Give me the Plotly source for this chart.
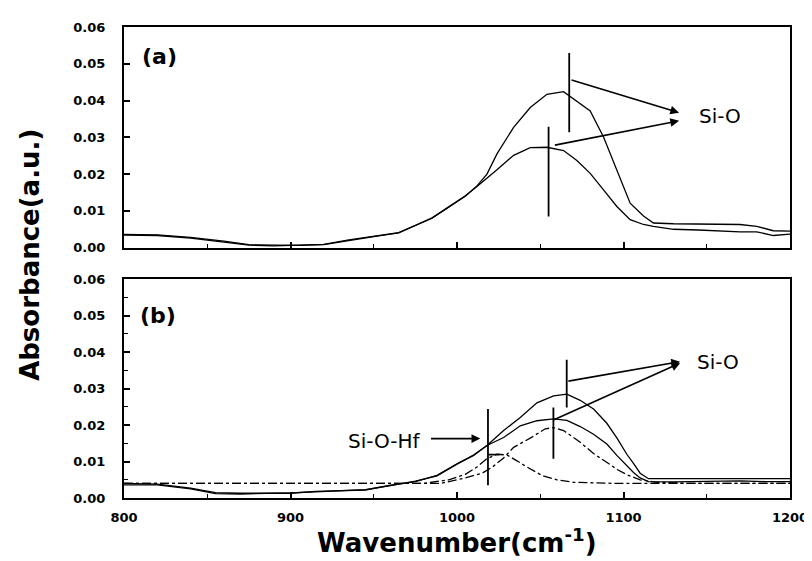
import plotly.graph_objects as go

# ---------------- data: panel (a) ----------------
a_x = [800, 820, 840, 860, 875, 890, 905, 920, 935, 950, 965, 975, 985, 995, 1005, 1012, 1018,
       1024, 1034, 1044, 1054, 1064, 1072, 1080, 1088, 1096, 1104, 1112, 1118,
       1130, 1145, 1160, 1170, 1180, 1190, 1200]
a_upper = [0.0036, 0.0035, 0.0028, 0.0018, 0.0008, 0.0006, 0.0006, 0.0008, 0.0020, 0.0030,
           0.0040, 0.0060, 0.0080, 0.0110, 0.0140, 0.0168, 0.0200,
           0.0255, 0.0327, 0.0381, 0.0417, 0.0424, 0.0399, 0.0372, 0.0301, 0.0210, 0.0121,
           0.0086, 0.0067, 0.0065, 0.0065, 0.0065, 0.0063, 0.0058, 0.0046, 0.0045]
a_lower = [0.0034, 0.0033, 0.0026, 0.0016, 0.0007, 0.0005, 0.0006, 0.0009, 0.0021, 0.0031,
           0.0041, 0.0061, 0.0081, 0.0111, 0.0141, 0.0166, 0.0190,
           0.0212, 0.0251, 0.0272, 0.0273, 0.0264, 0.0237, 0.0202, 0.0157, 0.0112, 0.0076,
           0.0063, 0.0058, 0.0050, 0.0048, 0.0044, 0.0043, 0.0043, 0.0033, 0.0037]

# ---------------- data: panel (b) ----------------
b_x = [800, 820, 840, 855, 870, 885, 900, 915, 930, 945, 960, 975, 988, 1000, 1010, 1018,
       1028, 1038, 1048, 1058, 1066, 1074, 1082, 1090, 1096, 1102, 1106, 1110, 1115,
       1130, 1150, 1170, 1185, 1200]
b_upper = [0.0040, 0.0038, 0.0027, 0.0015, 0.0013, 0.0013, 0.0013, 0.0018, 0.0020, 0.0022,
           0.0035, 0.0045, 0.0062, 0.0094, 0.0118, 0.0144,
           0.0185, 0.0221, 0.0261, 0.0280, 0.0285, 0.0268, 0.0244, 0.0205, 0.0165, 0.0120,
           0.0095, 0.0068, 0.0053, 0.0053, 0.0053, 0.0052, 0.0053, 0.0053]
b_middle = [0.0036, 0.0036, 0.0025, 0.0012, 0.0011, 0.0012, 0.0014, 0.0017, 0.0019, 0.0023,
            0.0034, 0.0046, 0.0061, 0.0093, 0.0117, 0.0144,
            0.0166, 0.0198, 0.0212, 0.0217, 0.0213, 0.0196, 0.0175, 0.0148, 0.0117, 0.0088,
            0.0070, 0.0055, 0.0045, 0.0044, 0.0046, 0.0047, 0.0045, 0.0045]

c1_x = [800, 990, 1005, 1015, 1021, 1028, 1034, 1045, 1053, 1058, 1064, 1074, 1082, 1090,
        1097, 1103, 1110, 1120, 1140, 1200]
c1_y = [0.0040, 0.0040, 0.0055, 0.0068, 0.0084, 0.0110, 0.0139, 0.0167, 0.0190, 0.0193,
        0.0185, 0.0153, 0.0122, 0.0098, 0.0076, 0.0062, 0.0050, 0.0043, 0.0040, 0.0040]
c2_x = [800, 980, 995, 1005, 1012, 1018, 1024, 1030, 1036, 1042, 1051, 1060, 1070, 1096, 1200]
c2_y = [0.0040, 0.0040, 0.0050, 0.0065, 0.0085, 0.0108, 0.0120, 0.0118, 0.0102, 0.0085,
        0.0062, 0.0050, 0.0043, 0.0040, 0.0040]

# ---------------- annotation positions (data units) ----------------
a_vlines = [(1067.4, 0.0314, 0.0529), (1055.0, 0.0085, 0.0329)]
a_arrows = [((1067.9, 0.0457), (1133.4, 0.0367)), ((1057.9, 0.0278), (1133.4, 0.0345))]
a_label_pos = (1144.0, 0.0358)

b_vlines = [(1018.6, 0.0035, 0.0244), (1065.9, 0.0248, 0.0379), (1057.9, 0.0108, 0.0248)]
b_hticks = [((1019.0, 1025.5), 0.0119)]
b_arrows = [((1066.0, 0.0320), (1134.0, 0.0374)), ((1057.0, 0.0212), (1134.0, 0.0370))]
b_label_pos = (1143.0, 0.0372)
hf_arrow = ((983.5, 0.0163), (1014.0, 0.0163))
hf_label_pos = (983.0, 0.0157)

x_ticks = [800, 900, 1000, 1100, 1200]
x_ticklabels = ["800", "900", "1000", "1100", "1200"]
y_ticks = [0.00, 0.01, 0.02, 0.03, 0.04, 0.05, 0.06]
y_ticklabels = ["0.00", "0.01", "0.02", "0.03", "0.04", "0.05", "0.06"]

BLACK = "#000000"
fig = go.Figure()

line_style = dict(color=BLACK, width=1.3)
fig.add_trace(go.Scatter(x=a_x, y=a_upper, mode="lines", line=line_style, xaxis="x", yaxis="y"))
fig.add_trace(go.Scatter(x=a_x, y=a_lower, mode="lines", line=line_style, xaxis="x", yaxis="y"))
fig.add_trace(go.Scatter(x=b_x, y=b_upper, mode="lines", line=line_style, xaxis="x2", yaxis="y2"))
fig.add_trace(go.Scatter(x=b_x, y=b_middle, mode="lines", line=line_style, xaxis="x2", yaxis="y2"))
fig.add_trace(go.Scatter(x=c1_x, y=c1_y, mode="lines", line=dict(color=BLACK, width=1.3, dash="dashdot"),
                         xaxis="x2", yaxis="y2"))
fig.add_trace(go.Scatter(x=c2_x, y=c2_y, mode="lines", line=dict(color=BLACK, width=1.3, dash="dashdot"),
                         xaxis="x2", yaxis="y2"))

shapes = []
for xv, y0, y1 in a_vlines:
    shapes.append(dict(type="line", xref="x", yref="y", x0=xv, x1=xv, y0=y0, y1=y1,
                       line=dict(color=BLACK, width=1.8)))
for xv, y0, y1 in b_vlines:
    shapes.append(dict(type="line", xref="x2", yref="y2", x0=xv, x1=xv, y0=y0, y1=y1,
                       line=dict(color=BLACK, width=1.8)))
for (x0, x1), yv in b_hticks:
    shapes.append(dict(type="line", xref="x2", yref="y2", x0=x0, x1=x1, y0=yv, y1=yv,
                       line=dict(color=BLACK, width=1.8)))

annotations = []
def arrow(tail, head, xr, yr):
    return dict(x=head[0], y=head[1], ax=tail[0], ay=tail[1], xref=xr, yref=yr,
                axref=xr, ayref=yr, text="", showarrow=True, arrowhead=2,
                arrowsize=1.1, arrowwidth=1.6, arrowcolor=BLACK, standoff=0, startstandoff=0)

for t, h in a_arrows:
    annotations.append(arrow(t, h, "x", "y"))
for t, h in b_arrows:
    annotations.append(arrow(t, h, "x2", "y2"))
annotations.append(arrow(hf_arrow[0], hf_arrow[1], "x2", "y2"))

txt_font = dict(family="DejaVu Sans", size=20, color=BLACK)
annotations.append(dict(x=a_label_pos[0], y=a_label_pos[1], xref="x", yref="y", text="Si-O",
                        showarrow=False, xanchor="left", yanchor="middle", font=txt_font))
annotations.append(dict(x=b_label_pos[0], y=b_label_pos[1], xref="x2", yref="y2", text="Si-O",
                        showarrow=False, xanchor="left", yanchor="middle", font=txt_font))
annotations.append(dict(x=hf_label_pos[0], y=hf_label_pos[1], xref="x2", yref="y2", text="Si-O-Hf",
                        showarrow=False, xanchor="right", yanchor="middle", font=txt_font,
                        xshift=-6))

lab_font = dict(family="DejaVu Sans", size=22, color=BLACK, weight="bold")
annotations.append(dict(x=0.024, y=0.865, xref="x domain", yref="y domain", text="(a)",
                        showarrow=False, xanchor="left", yanchor="middle", font=lab_font))
annotations.append(dict(x=0.021, y=0.835, xref="x2 domain", yref="y2 domain", text="(b)",
                        showarrow=False, xanchor="left", yanchor="middle", font=lab_font))

# the page body keeps its default 8px margin, so lay out everything 8px up/left
OFF = 8
W, H = 812, 561
ML, MT = 124 - OFF, 22 - OFF
MR = W - (799 - OFF)
MB = H - (498 - OFF)
pw, ph = W - ML - MR, H - MT - MB

def px_to_paper(xp, yp):
    return (xp - OFF - ML) / pw, (H - MB - (yp - OFF)) / ph

title_font = dict(family="DejaVu Sans", size=26, color=BLACK, weight="bold")
tx, ty = px_to_paper(28, 252)
annotations.append(dict(x=tx, y=ty, xref="paper", yref="paper", text="Absorbance(a.u.)",
                        showarrow=False, textangle=-90, font=title_font,
                        xanchor="center", yanchor="middle"))
tx, ty = px_to_paper(462, 560)
annotations.append(dict(x=tx, y=ty, xref="paper", yref="paper", text="Wavenumber(cm<sup>-1</sup>)",
                        showarrow=False, font=title_font, xanchor="center", yanchor="bottom",
                        borderpad=0))

tick_font = dict(family="DejaVu Sans", size=13, color=BLACK, weight="bold")
common_x = dict(range=[800, 1200], tickvals=x_ticks, ticktext=x_ticklabels, ticks="inside",
                ticklen=6, tickwidth=1.5, tickcolor=BLACK, showline=True, linecolor=BLACK,
                linewidth=2, mirror=True, showgrid=False, zeroline=False, tickfont=tick_font,
                ticklabeloverflow="allow",
                minor=dict(ticks="inside", ticklen=4, tickwidth=1.2, tickcolor=BLACK,
                           tickvals=[850, 950, 1050, 1150], showgrid=False))
common_y = dict(range=[0, 0.06], tickvals=y_ticks, ticktext=y_ticklabels, ticks="inside",
                ticklen=6, tickwidth=1.5, tickcolor=BLACK, showline=True, linecolor=BLACK,
                linewidth=2, mirror=True, showgrid=False, zeroline=False, tickfont=tick_font,
                ticklabelstandoff=14)

dom_a = [(498 - 245) / ph, 1.0]
dom_b = [0.0, (498 - 277) / ph]

fig.update_layout(
    width=W, height=H, autosize=False,
    margin=dict(l=ML, r=MR, t=MT, b=MB, pad=0),
    paper_bgcolor="white", plot_bgcolor="white",
    showlegend=False,
    xaxis=dict(common_x, anchor="y", showticklabels=False),
    yaxis=dict(common_y, domain=dom_a, anchor="x"),
    xaxis2=dict(common_x, anchor="y2", ticklabelstandoff=6),
    yaxis2=dict(common_y, domain=dom_b, anchor="x2",
                minor=dict(ticks="inside", ticklen=4, tickwidth=1.2, tickcolor=BLACK,
                           tickvals=[0.005, 0.015, 0.025, 0.035, 0.045, 0.055], showgrid=False)),
    shapes=shapes,
    annotations=annotations,
)

fig.write_html("out.html", config={"displayModeBar": False})
